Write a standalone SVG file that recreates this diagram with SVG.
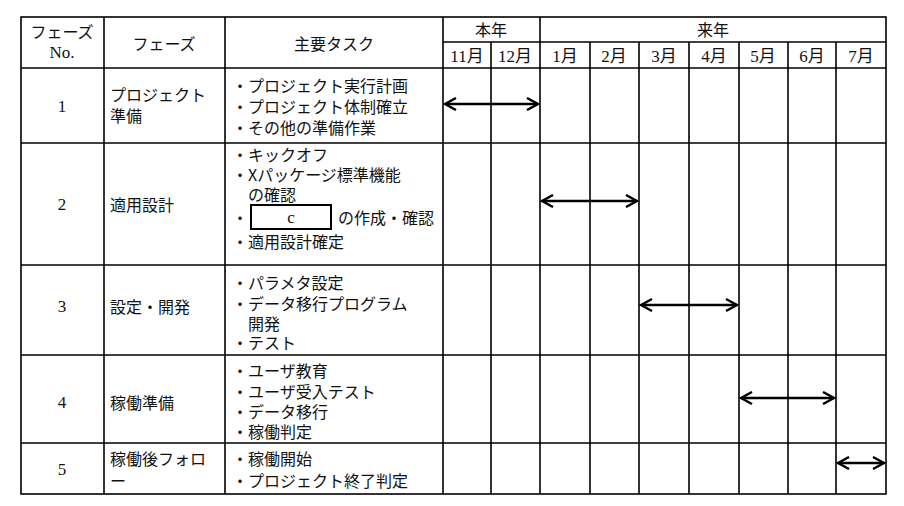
<svg xmlns="http://www.w3.org/2000/svg" width="904" height="506" viewBox="0 0 904 506">
<style>
.g{stroke:#000;stroke-width:1.6;fill:none}
.t{font-family:"Noto Sans CJK JP",sans-serif;font-size:16px;fill:#111;dominant-baseline:central}
.n{font-family:"Liberation Serif","Noto Sans CJK JP",serif;font-size:17px;fill:#111;dominant-baseline:central;text-anchor:middle}
.c{text-anchor:middle}
.a{stroke:#000;stroke-width:2.4;fill:none;marker-start:url(#h);marker-end:url(#h)}
</style>
<defs>
<marker id="h" markerWidth="14" markerHeight="14" refX="12" refY="7" orient="auto-start-reverse" markerUnits="userSpaceOnUse">
<path d="M1,1 L12,7 L1,13" fill="none" stroke="#000" stroke-width="2.4"/>
</marker>
</defs>
<rect width="904" height="506" fill="#fff"/>
<g id="grid" class="g">
<rect x="21" y="17" width="865" height="477"/>
<line x1="104" y1="17" x2="104" y2="494"/>
<line x1="225" y1="17" x2="225" y2="494"/>
<line x1="443" y1="17" x2="443" y2="494"/>
<line x1="540" y1="17" x2="540" y2="494"/>
<line x1="443" y1="42" x2="886" y2="42"/>
<line x1="491" y1="42" x2="491" y2="494"/>
<line x1="590" y1="42" x2="590" y2="494"/>
<line x1="639" y1="42" x2="639" y2="494"/>
<line x1="689" y1="42" x2="689" y2="494"/>
<line x1="739" y1="42" x2="739" y2="494"/>
<line x1="788" y1="42" x2="788" y2="494"/>
<line x1="836" y1="42" x2="836" y2="494"/>
<line x1="21" y1="68" x2="886" y2="68"/>
<line x1="21" y1="143" x2="886" y2="143"/>
<line x1="21" y1="265" x2="886" y2="265"/>
<line x1="21" y1="355" x2="886" y2="355"/>
<line x1="21" y1="443" x2="886" y2="443"/>
</g>
<g id="header">
<text class="t c" x="62" y="31">フェーズ</text>
<text class="n" x="62" y="52">No.</text>
<text class="t c" x="164" y="43">フェーズ</text>
<text class="t c" x="334" y="43">主要タスク</text>
<text class="t c" x="491" y="29">本年</text>
<text class="t c" x="713" y="29">来年</text>
<text class="n" x="467" y="56">11月</text>
<text class="n" x="515" y="56">12月</text>
<text class="n" x="565" y="56">1月</text>
<text class="n" x="614" y="56">2月</text>
<text class="n" x="664" y="56">3月</text>
<text class="n" x="714" y="56">4月</text>
<text class="n" x="763" y="56">5月</text>
<text class="n" x="812" y="56">6月</text>
<text class="n" x="861" y="56">7月</text>
</g>
<g id="phase1">
<text class="n" x="62" y="106">1</text>
<text class="t" x="110" y="94">プロジェクト</text>
<text class="t" x="110" y="115">準備</text>
<text class="t" x="232" y="85">・プロジェクト実行計画</text>
<text class="t" x="232" y="106">・プロジェクト体制確立</text>
<text class="t" x="232" y="127">・その他の準備作業</text>
</g>
<g id="phase2">
<text class="n" x="62" y="204">2</text>
<text class="t" x="110" y="204">適用設計</text>
<text class="t" x="232" y="154">・キックオフ</text>
<text class="t" x="232" y="174">・Xパッケージ標準機能</text>
<text class="t" x="248" y="194">の確認</text>
<text class="t" x="232" y="217">・</text>
<rect x="251" y="205" width="80" height="24" fill="none" stroke="#000" stroke-width="2"/>
<text class="n" x="291" y="217">c</text>
<text class="t" x="338" y="217">の作成・確認</text>
<text class="t" x="232" y="241">・適用設計確定</text>
</g>
<g id="phase3">
<text class="n" x="62" y="306">3</text>
<text class="t" x="110" y="306">設定・開発</text>
<text class="t" x="232" y="282">・パラメタ設定</text>
<text class="t" x="232" y="303">・データ移行プログラム</text>
<text class="t" x="248" y="323">開発</text>
<text class="t" x="232" y="342">・テスト</text>
</g>
<g id="phase4">
<text class="n" x="62" y="402">4</text>
<text class="t" x="110" y="402">稼働準備</text>
<text class="t" x="232" y="370">・ユーザ教育</text>
<text class="t" x="232" y="391">・ユーザ受入テスト</text>
<text class="t" x="232" y="411">・データ移行</text>
<text class="t" x="232" y="431">・稼働判定</text>
</g>
<g id="phase5">
<text class="n" x="62" y="469">5</text>
<text class="t" x="110" y="458">稼働後フォロ</text>
<text class="t" x="110" y="480">ー</text>
<text class="t" x="232" y="458">・稼働開始</text>
<text class="t" x="232" y="480">・プロジェクト終了判定</text>
</g>
<g id="connectors">
<line class="a" x1="445" y1="104" x2="538" y2="104"/>
<line class="a" x1="542" y1="201" x2="637" y2="201"/>
<line class="a" x1="641" y1="305" x2="737" y2="305"/>
<line class="a" x1="741" y1="398" x2="834" y2="398"/>
<line class="a" x1="838" y1="463" x2="884" y2="463"/>
</g>
</svg>
